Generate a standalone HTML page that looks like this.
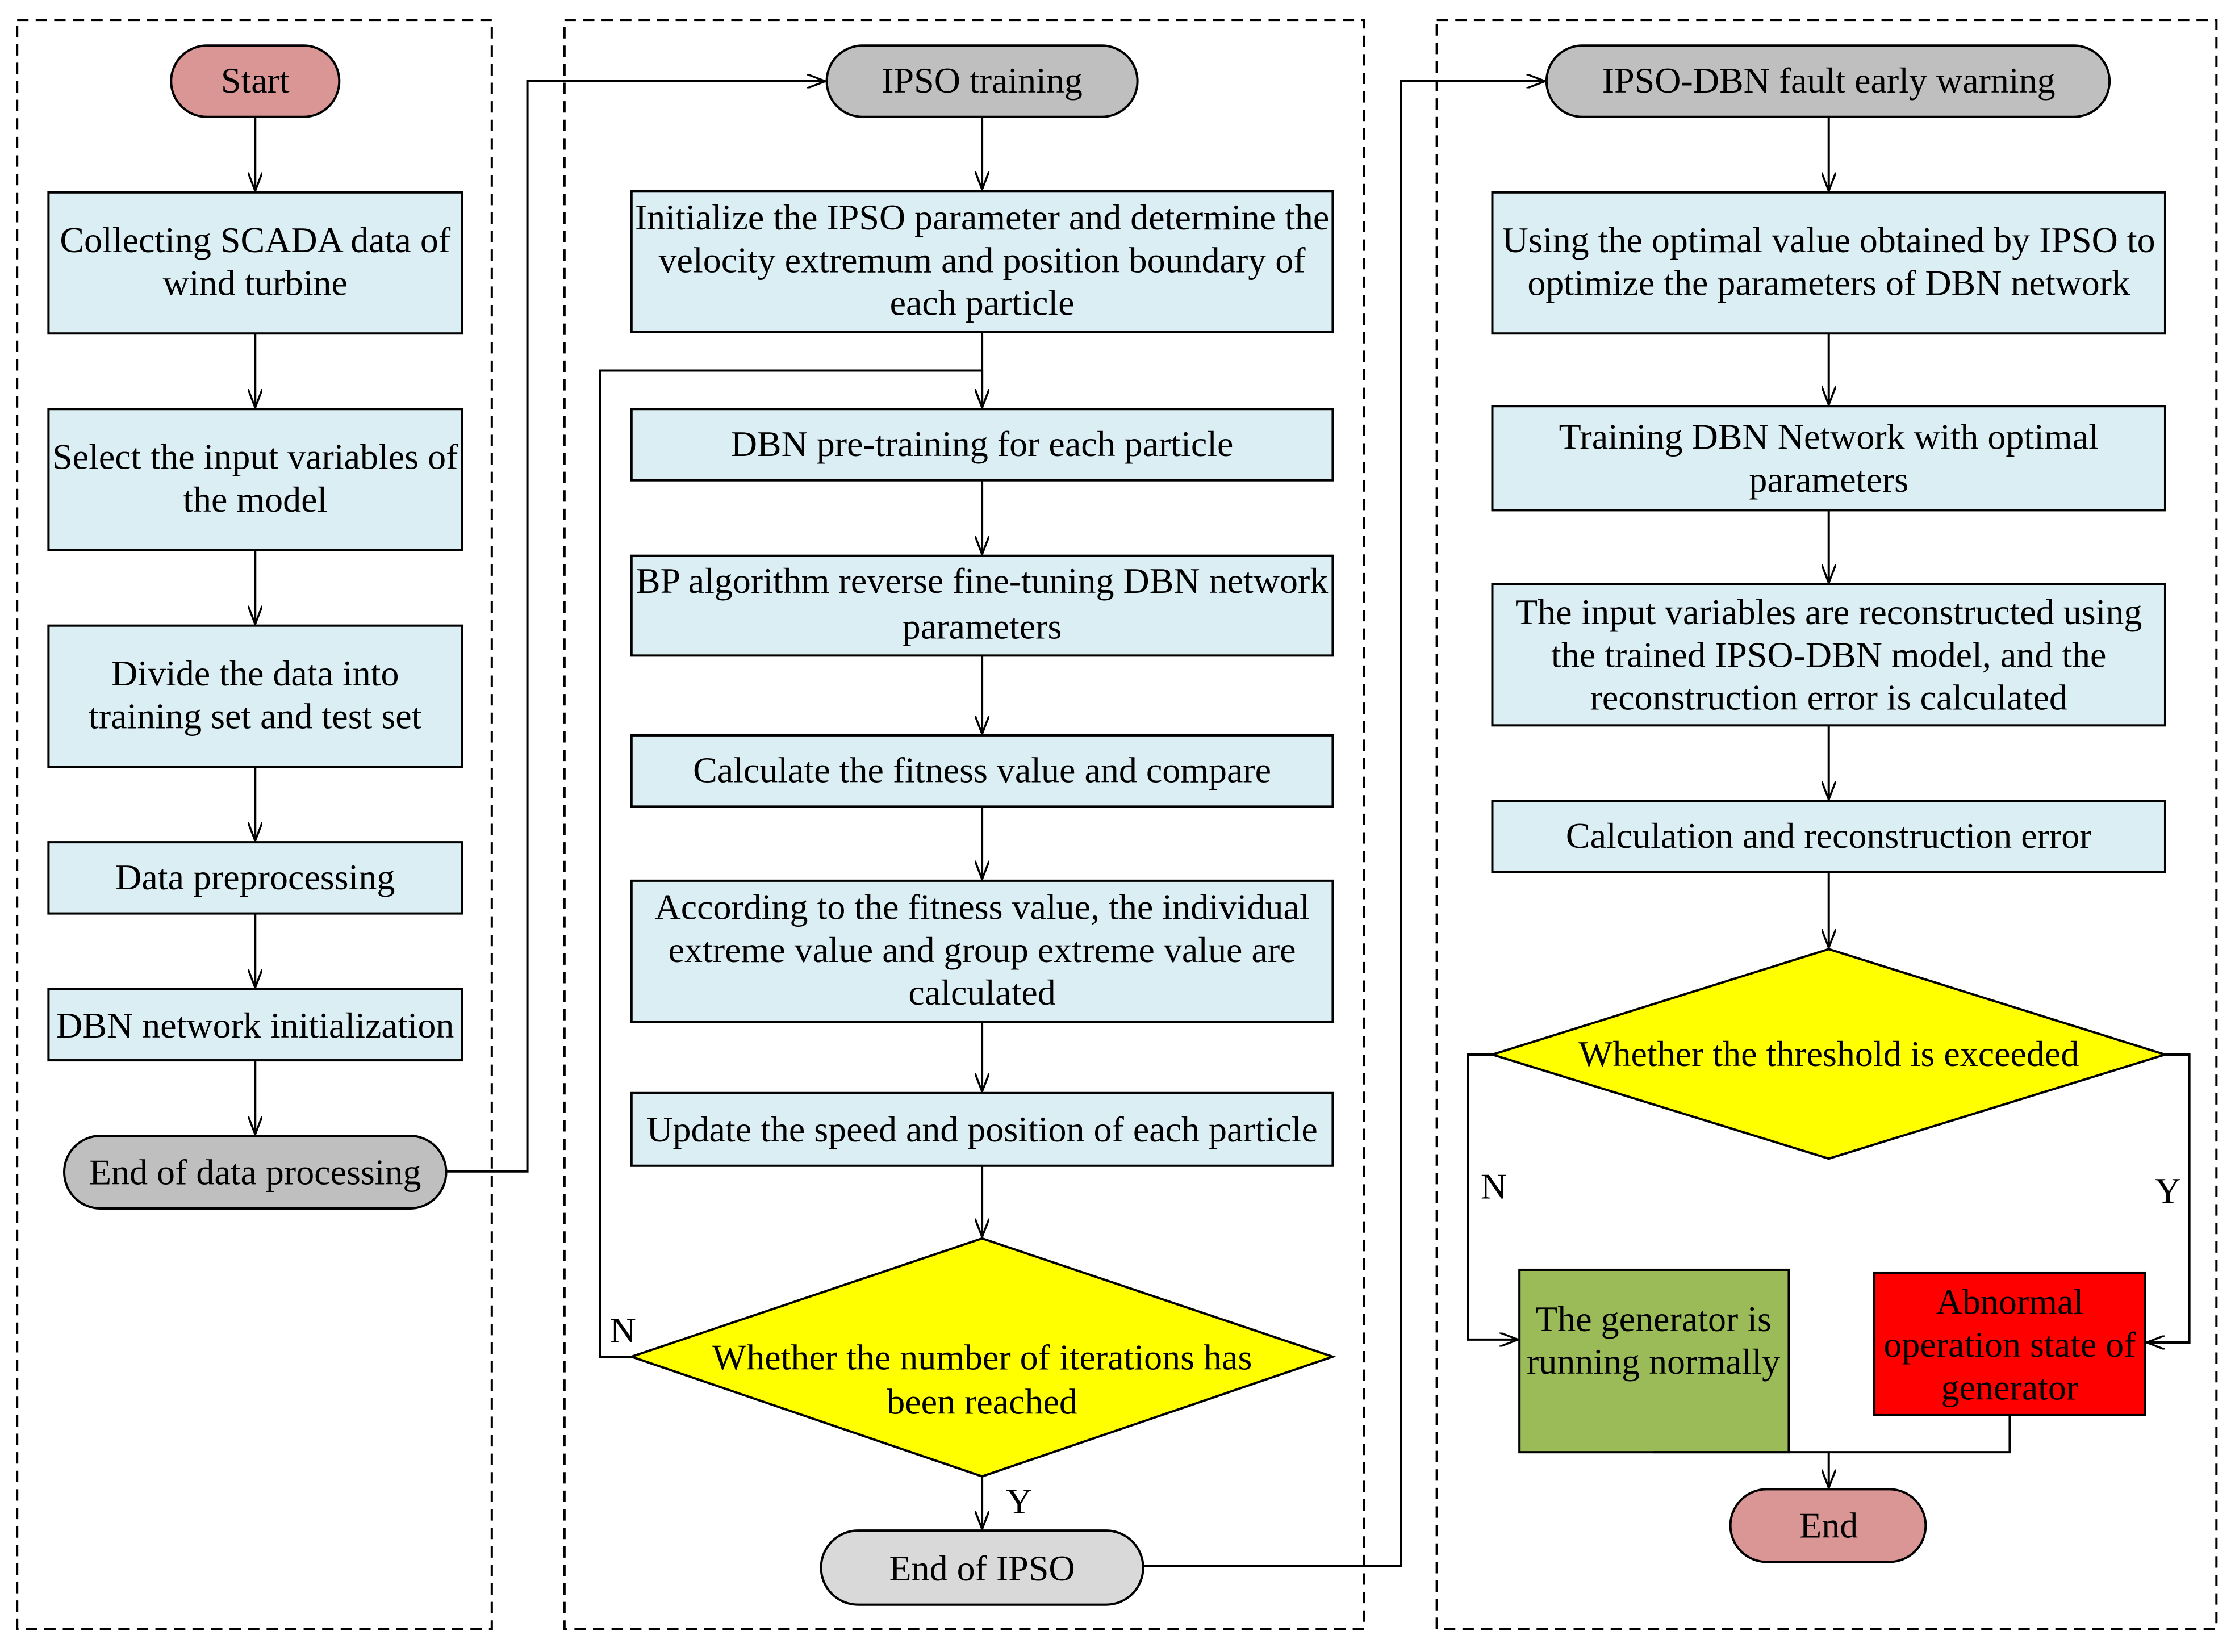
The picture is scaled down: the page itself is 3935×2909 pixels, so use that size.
<!DOCTYPE html>
<html><head><meta charset="utf-8"><style>
html,body{margin:0;padding:0;background:#fff;}
svg{display:block;}
text{font-family:"Liberation Serif",serif;font-size:25.5px;fill:#000;text-anchor:middle;}
.b{fill:#dbeef3;stroke:#000;stroke-width:1.6;}
.l{fill:none;stroke:#000;stroke-width:1.6;}
.d{fill:none;stroke:#000;stroke-width:1.6;stroke-dasharray:8,5;}
</style></head><body>
<svg width="3935" height="2909" viewBox="0 0 1568 1159.2" xmlns="http://www.w3.org/2000/svg">
<defs><marker id="a" markerWidth="14" markerHeight="10" refX="13" refY="5" orient="auto" markerUnits="userSpaceOnUse"><path d="M0,0 L13,5 L0,10" fill="none" stroke="#000" stroke-width="1.4"/></marker></defs>
<rect class="d" x="12" y="14" width="333" height="1129"/>
<rect class="d" x="396" y="14" width="561" height="1129"/>
<rect class="d" x="1008" y="14" width="547" height="1129"/>

<rect x="120" y="32" width="118" height="50" rx="25" fill="#d99694" stroke="#000" stroke-width="1.6"/>
<text x="179" y="65">Start</text>
<rect class="b" x="34" y="135" width="290" height="99"/>
<text x="179" y="177">Collecting SCADA data of</text><text x="179" y="207">wind turbine</text>
<rect class="b" x="34" y="287" width="290" height="99"/>
<text x="179" y="329">Select the input variables of</text><text x="179" y="359">the model</text>
<rect class="b" x="34" y="439" width="290" height="99"/>
<text x="179" y="481">Divide the data into</text><text x="179" y="511">training set and test set</text>
<rect class="b" x="34" y="591" width="290" height="50"/>
<text x="179" y="624">Data preprocessing</text>
<rect class="b" x="34" y="694" width="290" height="50"/>
<text x="179" y="728">DBN network initialization</text>
<rect x="45" y="797" width="268" height="51" rx="25.5" fill="#bfbfbf" stroke="#000" stroke-width="1.6"/>
<text x="179" y="831">End of data processing</text>
<path class="l" d="M179,82 V134" marker-end="url(#a)"/>
<path class="l" d="M179,234 V286" marker-end="url(#a)"/>
<path class="l" d="M179,386 V438" marker-end="url(#a)"/>
<path class="l" d="M179,538 V590" marker-end="url(#a)"/>
<path class="l" d="M179,641 V693" marker-end="url(#a)"/>
<path class="l" d="M179,744 V796" marker-end="url(#a)"/>
<path class="l" d="M313,822 H370 V57 H579" marker-end="url(#a)"/>

<rect x="580" y="32" width="218" height="50" rx="25" fill="#bfbfbf" stroke="#000" stroke-width="1.6"/>
<text x="689" y="65">IPSO training</text>
<rect class="b" x="443" y="134" width="492" height="99"/>
<text x="689" y="161">Initialize the IPSO parameter and determine the</text><text x="689" y="191">velocity extremum and position boundary of</text><text x="689" y="221">each particle</text>
<rect class="b" x="443" y="287" width="492" height="50"/>
<text x="689" y="320">DBN pre-training for each particle</text>
<rect class="b" x="443" y="390" width="492" height="70"/>
<text x="689" y="416">BP algorithm reverse fine-tuning DBN network</text><text x="689" y="448">parameters</text>
<rect class="b" x="443" y="516" width="492" height="50"/>
<text x="689" y="549">Calculate the fitness value and compare</text>
<rect class="b" x="443" y="618" width="492" height="99"/>
<text x="689" y="645">According to the fitness value, the individual</text><text x="689" y="675">extreme value and group extreme value are</text><text x="689" y="705">calculated</text>
<rect class="b" x="443" y="767" width="492" height="51"/>
<text x="689" y="801">Update the speed and position of each particle</text>
<polygon points="689,869 935,952 689,1036 443,952" fill="#ffff00" stroke="#000" stroke-width="1.6"/>
<text x="689" y="961">Whether the number of iterations has</text><text x="689" y="992">been reached</text>
<rect x="576" y="1074" width="226" height="52" rx="26" fill="#d9d9d9" stroke="#000" stroke-width="1.6"/>
<text x="689" y="1109">End of IPSO</text>
<path class="l" d="M689,82 V133" marker-end="url(#a)"/>
<path class="l" d="M689,233 V286" marker-end="url(#a)"/>
<path class="l" d="M689,337 V389" marker-end="url(#a)"/>
<path class="l" d="M689,460 V515" marker-end="url(#a)"/>
<path class="l" d="M689,566 V617" marker-end="url(#a)"/>
<path class="l" d="M689,717 V766" marker-end="url(#a)"/>
<path class="l" d="M689,818 V868" marker-end="url(#a)"/>
<path class="l" d="M689,1036 V1073" marker-end="url(#a)"/>
<path class="l" d="M443,952 H421 V260 H689 V286" marker-end="url(#a)"/>
<text x="437" y="942">N</text>
<text x="715" y="1062">Y</text>
<path class="l" d="M802,1099 H983 V57 H1084" marker-end="url(#a)"/>

<rect x="1085" y="32" width="395" height="50" rx="25" fill="#bfbfbf" stroke="#000" stroke-width="1.6"/>
<text x="1283" y="65">IPSO-DBN fault early warning</text>
<rect class="b" x="1047" y="135" width="472" height="99"/>
<text x="1283" y="177">Using the optimal value obtained by IPSO to</text><text x="1283" y="207">optimize the parameters of DBN network</text>
<rect class="b" x="1047" y="285" width="472" height="73"/>
<text x="1283" y="315">Training DBN Network with optimal</text><text x="1283" y="345">parameters</text>
<rect class="b" x="1047" y="410" width="472" height="99"/>
<text x="1283" y="438">The input variables are reconstructed using</text><text x="1283" y="468">the trained IPSO-DBN model, and the</text><text x="1283" y="498">reconstruction error is calculated</text>
<rect class="b" x="1047" y="562" width="472" height="50"/>
<text x="1283" y="595">Calculation and reconstruction error</text>
<polygon points="1283,666 1519,740 1283,813 1047,740" fill="#ffff00" stroke="#000" stroke-width="1.6"/>
<text x="1283" y="748">Whether the threshold is exceeded</text>
<rect x="1066" y="891" width="189" height="128" fill="#9bbb59" stroke="#000" stroke-width="1.6"/>
<text x="1160" y="934">The generator is</text><text x="1160" y="964">running normally</text>
<rect x="1315" y="893" width="190" height="100" fill="#ff0000" stroke="#000" stroke-width="1.6"/>
<text x="1410" y="922">Abnormal</text><text x="1410" y="952">operation state of</text><text x="1410" y="982">generator</text>
<rect x="1214" y="1045" width="137" height="51" rx="25.5" fill="#d99694" stroke="#000" stroke-width="1.6"/>
<text x="1283" y="1079">End</text>
<path class="l" d="M1283,82 V134" marker-end="url(#a)"/>
<path class="l" d="M1283,234 V284" marker-end="url(#a)"/>
<path class="l" d="M1283,358 V409" marker-end="url(#a)"/>
<path class="l" d="M1283,509 V561" marker-end="url(#a)"/>
<path class="l" d="M1283,612 V665" marker-end="url(#a)"/>
<path class="l" d="M1047,740 H1030 V940 H1065" marker-end="url(#a)"/>
<path class="l" d="M1519,740 H1536 V942 H1506" marker-end="url(#a)"/>
<text x="1048" y="841">N</text>
<text x="1521" y="844">Y</text>
<path class="l" d="M1160,1019 H1410 V993"/>
<path class="l" d="M1283,1019 V1044" marker-end="url(#a)"/>
</svg>
</body></html>
